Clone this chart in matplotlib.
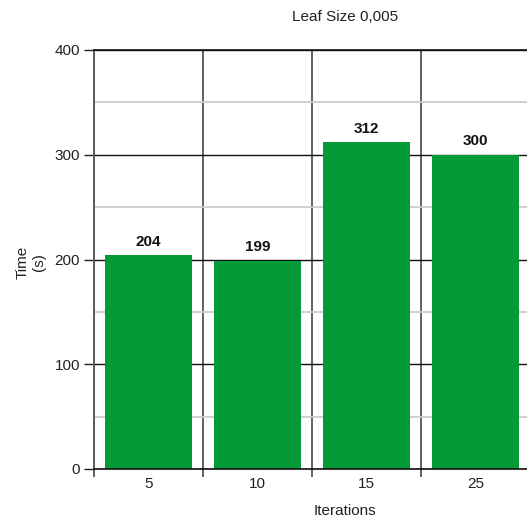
import matplotlib
matplotlib.use("Agg")
import matplotlib.pyplot as plt
from matplotlib.ticker import MultipleLocator, FixedLocator

categories = ["5", "10", "15", "25"]
values = [204, 199, 312, 300]
title = "Leaf Size 0,005"
xlabel = "Iterations"
ylabel = "Time\n(s)"

plt.rcParams['font.family'] = ['Liberation Sans', 'DejaVu Sans']

W, H = 527, 521
fig = plt.figure(figsize=(W / 100, H / 100), dpi=100)
left_px, right_px = 94, 530
top_px, bot_px = 50, 469
ax = fig.add_axes([left_px / W, (H - bot_px) / H, (right_px - left_px) / W, (bot_px - top_px) / H])

x = list(range(len(categories)))
bars = ax.bar(x, values, width=0.79, color="#039a37", zorder=3)
for xi, v in zip(x, values):
    ax.annotate(str(v), (xi, v), xytext=(0, 4.5), textcoords="offset points",
                ha="center", va="bottom", fontsize=11, fontweight="bold", color="#111111")

ax.set_xlim(-0.5, len(categories) - 0.5)
ax.set_ylim(0, 400)

ax.set_xticks(x)
ax.set_xticklabels(categories, fontsize=11, color="#222222")
ax.tick_params(axis="x", which="major", length=0, pad=6)
ax.xaxis.set_minor_locator(FixedLocator([i - 0.5 for i in range(len(categories) + 1)]))
ax.tick_params(axis="x", which="minor", length=6, width=1.3, color="#555555", direction="out")

ax.yaxis.set_major_locator(MultipleLocator(100))
ax.yaxis.set_minor_locator(MultipleLocator(50))
ax.tick_params(axis="y", which="major", length=7, width=1.0, color="#222222", labelsize=11, labelcolor="#222222", pad=3)
ax.tick_params(axis="y", which="minor", length=0)

ax.grid(axis="y", which="minor", color="#cccccc", linewidth=1.3, zorder=1)
ax.grid(axis="y", which="major", color="#111111", linewidth=1.0, zorder=2)
ax.grid(axis="x", which="minor", color="#555555", linewidth=1.3, zorder=2)
ax.set_axisbelow(True)

for s in ["top", "right"]:
    ax.spines[s].set_visible(False)
ax.spines["left"].set_color("#555555")
ax.spines["left"].set_linewidth(1.3)
ax.spines["bottom"].set_color("#111111")
ax.spines["bottom"].set_linewidth(1.2)
ax.spines["bottom"].set_zorder(4)
ax.axhline(400, color="#111111", linewidth=1.2, clip_on=False, zorder=4)

fig.text(345 / W, (H - 17) / H, title, ha="center", va="center", fontsize=11, color="#222222")
fig.text(345 / W, (H - 511) / H, xlabel, ha="center", va="center", fontsize=11, color="#222222")
fig.text(31 / W, (H - 262) / H, ylabel, ha="center", va="center", rotation=90, fontsize=11,
         color="#222222", multialignment="center")

fig.savefig("out.png", dpi=100)
